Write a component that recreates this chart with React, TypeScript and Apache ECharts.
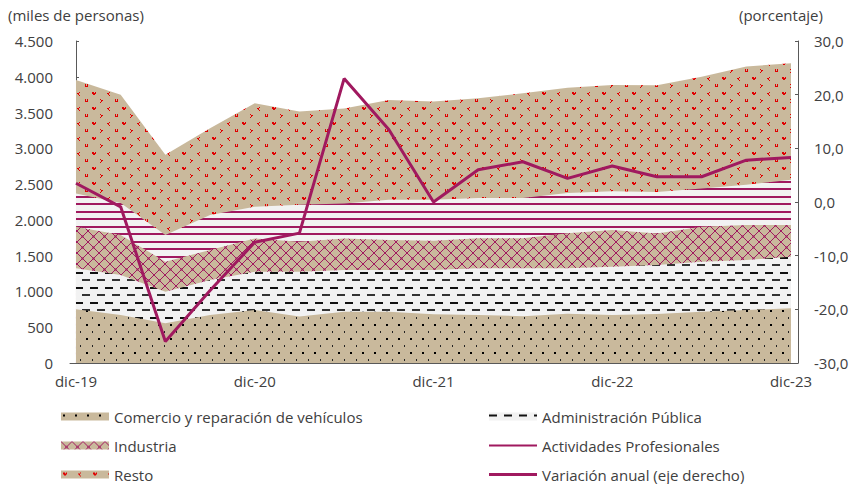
import React, { useEffect, useRef } from "react";
import * as echarts from "echarts";

const categories = [
  "dic-19", "mar-20", "jun-20", "sep-20", "dic-20", "mar-21", "jun-21", "sep-21",
  "dic-21", "mar-22", "jun-22", "sep-22", "dic-22", "mar-23", "jun-23", "sep-23", "dic-23",
];
const labelIndexes = [0, 4, 8, 12, 16];

// miles de personas
const comercio = [750, 670, 555, 670, 740, 650, 715, 715, 680, 670, 655, 690, 670, 685, 715, 740, 765];
const administracion = [575, 560, 440, 490, 535, 625, 585, 585, 620, 655, 670, 635, 675, 685, 700, 700, 720];
const industria = [580, 560, 420, 420, 465, 420, 440, 420, 410, 420, 420, 490, 515, 440, 490, 490, 445];
const profesionales = [465, 445, 375, 490, 445, 515, 490, 560, 570, 560, 560, 560, 540, 580, 535, 560, 630];
const resto = [1585, 1515, 1120, 1210, 1445, 1305, 1325, 1395, 1375, 1395, 1465, 1470, 1485, 1490, 1560, 1655, 1630];
// porcentaje
const variacion = [3.5, -0.9, -26.0, -16.5, -7.5, -5.8, 23.0, 13.5, 0.0, 6.0, 7.5, 4.4, 6.7, 4.7, 4.7, 7.8, 8.3];

const leftTicks = [0, 500, 1000, 1500, 2000, 2500, 3000, 3500, 4000, 4500];
const rightTicks = [-30, -20, -10, 0, 10, 20, 30];

const names = {
  comercio: "Comercio y reparación de vehículos",
  administracion: "Administración Pública",
  industria: "Industria",
  profesionales: "Actividades Profesionales",
  resto: "Resto",
  variacion: "Variación anual (eje derecho)",
};

const TAN = "#c9b99c";
const GRAY = "#f2f2f2";
const MAGENTA = "#a0195f";
const RED = "#e00000";
const TEXT = "#404040";
const AXIS = "#595959";
const FONT = "'Open Sans', 'Noto Sans', sans-serif";

function makePattern(w: number, h: number, bg: string, draw: (ctx: CanvasRenderingContext2D) => void) {
  const c = document.createElement("canvas");
  c.width = w;
  c.height = h;
  const ctx = c.getContext("2d") as CanvasRenderingContext2D;
  ctx.fillStyle = bg;
  ctx.fillRect(0, 0, w, h);
  draw(ctx);
  return { image: c, repeat: "repeat", imageWidth: w, imageHeight: h };
}

function fmtThousands(v: number) {
  if (v >= 1000) return `${Math.floor(v / 1000)}.${String(v % 1000).padStart(3, "0")}`;
  return String(v);
}

export default function App() {
  const ref = useRef<HTMLDivElement>(null);

  useEffect(() => {
    if (!ref.current) return;
    const chart = echarts.init(ref.current, undefined, { renderer: "svg" });

    const pComercio = makePattern(12, 14, TAN, (ctx) => {
      ctx.fillStyle = "#000";
      ctx.fillRect(2, 2, 2, 2);
      ctx.fillStyle = "#222";
      ctx.fillRect(8, 9, 1, 2);
    });
    const pAdmin = makePattern(15, 15, GRAY, (ctx) => {
      ctx.fillStyle = "#111";
      ctx.fillRect(0, 2, 8, 2);
      ctx.fillStyle = "#333";
      ctx.fillRect(7, 9, 8, 2);
    });
    const pIndustria = makePattern(11, 11, TAN, (ctx) => {
      ctx.strokeStyle = MAGENTA;
      ctx.lineWidth = 1;
      ctx.beginPath();
      ctx.moveTo(0, 0);
      ctx.lineTo(11, 11);
      ctx.moveTo(11, 0);
      ctx.lineTo(0, 11);
      ctx.stroke();
      ctx.fillStyle = MAGENTA;
      ctx.fillRect(4.5, 4.5, 2, 2);
    });
    const pProf = makePattern(4, 15, GRAY, (ctx) => {
      ctx.fillStyle = MAGENTA;
      ctx.fillRect(0, 1, 4, 2);
      ctx.fillRect(0, 8, 4, 2);
    });
    const pResto = makePattern(30, 15, TAN, (ctx) => {
      ctx.fillStyle = RED;
      const px = (x: number, y: number) => ctx.fillRect(x, y, 1, 1);
      // heart
      [[0, 0], [1, 0], [3, 0], [0, 1], [1, 1], [2, 1], [3, 1], [1, 2], [2, 2]].forEach(([a, b]) => px(2 + a, 2 + b));
      // "<"
      [[2, 0], [1, 1], [0, 1], [1, 2], [2, 3]].forEach(([a, b]) => px(17 + a, 2 + b));
      // ">"
      [[0, 0], [1, 1], [2, 1], [1, 2], [0, 3]].forEach(([a, b]) => px(10 + a, 9 + b));
      // "U"
      [[0, 0], [2, 0], [0, 1], [2, 1], [0, 2], [1, 2], [2, 2]].forEach(([a, b]) => px(25 + a, 9 + b));
    });

    // cumulative tops, bottom to top
    const layers = [comercio, administracion, industria, profesionales, resto];
    const cum: number[][] = [];
    layers.forEach((arr, k) => {
      cum.push(arr.map((v, i) => v + (k > 0 ? cum[k - 1][i] : 0)));
    });
    const toPairs = (arr: number[]) => arr.map((v, i) => [i, v]);

    const areaSeries = (name: string, data: number[], pattern: any) => ({
      name,
      type: "line",
      data: toPairs(data),
      symbol: "none",
      showSymbol: false,
      lineStyle: { width: 0, color: "transparent" },
      itemStyle: { color: pattern },
      areaStyle: { color: pattern, opacity: 1 },
      z: 2,
      silent: true,
    });

    const legendItem = (name: string, pattern: any) => ({
      name,
      icon: "rect",
      itemStyle: { color: pattern, borderWidth: 0 },
    });

    const legendBase = {
      orient: "vertical",
      top: 409,
      height: 120,
      padding: 0,
      itemWidth: 48,
      itemHeight: 8,
      itemGap: 14,
      textStyle: { color: TEXT, fontSize: 15, fontFamily: FONT },
    };

    const option: any = {
      animation: false,
      textStyle: { fontFamily: FONT },
      grid: { left: 70, right: 54, top: 41, bottom: 121, containLabel: false },
      xAxis: {
        type: "value",
        min: -0.134,
        max: 16.157,
        axisLine: { show: true, lineStyle: { color: AXIS, width: 1 } },
        axisTick: { show: true, inside: true, length: 3, customValues: [3.84, 7.84, 11.84, 15.84], lineStyle: { color: AXIS } },
        axisLabel: {
          customValues: labelIndexes,
          formatter: (v: number) => categories[Math.round(v)] ?? "",
          color: TEXT,
          fontSize: 15,
          fontFamily: FONT,
          margin: 10,
        },
        splitLine: { show: false },
      },
      yAxis: [
        {
          type: "value",
          position: "left",
          min: leftTicks[0],
          max: leftTicks[leftTicks.length - 1],
          interval: 500,
          axisLine: { show: true, lineStyle: { color: AXIS, width: 1 } },
          axisTick: { show: true, inside: true, length: 3, lineStyle: { color: AXIS } },
          axisLabel: { formatter: fmtThousands, color: TEXT, fontSize: 15, fontFamily: FONT, margin: 17 },
          splitLine: { show: false },
        },
        {
          type: "value",
          position: "right",
          min: rightTicks[0],
          max: rightTicks[rightTicks.length - 1],
          interval: 10,
          axisLine: { show: true, lineStyle: { color: AXIS, width: 1 } },
          axisTick: { show: true, inside: true, length: 3, lineStyle: { color: AXIS } },
          axisLabel: {
            formatter: (v: number) => v.toFixed(1).replace(".", ","),
            color: TEXT,
            fontSize: 15,
            fontFamily: FONT,
            margin: 16,
          },
          splitLine: { show: false },
        },
      ],
      legend: [
        {
          ...legendBase,
          left: 61,
          data: [
            legendItem(names.comercio, pComercio),
            legendItem(names.industria, pIndustria),
            legendItem(names.resto, pResto),
          ],
        },
        {
          ...legendBase,
          left: 489,
          data: [
            legendItem(names.administracion, pAdmin),
            { name: names.profesionales, icon: "path://M0,0H48V2H0Z", itemStyle: { color: MAGENTA, borderWidth: 0 } },
            { name: names.variacion, icon: "path://M0,0H48V3H0Z", itemStyle: { color: MAGENTA, borderWidth: 0 } },
          ],
        },
      ],
      graphic: [
        { type: "text", left: 8, top: 7, style: { text: "(miles de personas)", fill: TEXT, font: `15px ${FONT}` } },
        { type: "text", left: 739, top: 7, style: { text: "(porcentaje)", fill: TEXT, font: `15px ${FONT}` } },
      ],
      series: [
        areaSeries(names.resto, cum[4], pResto),
        areaSeries(names.profesionales, cum[3], pProf),
        areaSeries(names.industria, cum[2], pIndustria),
        areaSeries(names.administracion, cum[1], pAdmin),
        areaSeries(names.comercio, cum[0], pComercio),
        {
          name: names.variacion,
          type: "line",
          yAxisIndex: 1,
          data: toPairs(variacion),
          symbol: "none",
          showSymbol: false,
          lineStyle: { width: 3, color: MAGENTA },
          itemStyle: { color: MAGENTA },
          z: 5,
        },
      ],
    };

    chart.setOption(option);
    return () => chart.dispose();
  }, []);

  return <div ref={ref} style={{ width: 852, height: 484, position: "absolute", left: 0, top: 0 }} />;
}
